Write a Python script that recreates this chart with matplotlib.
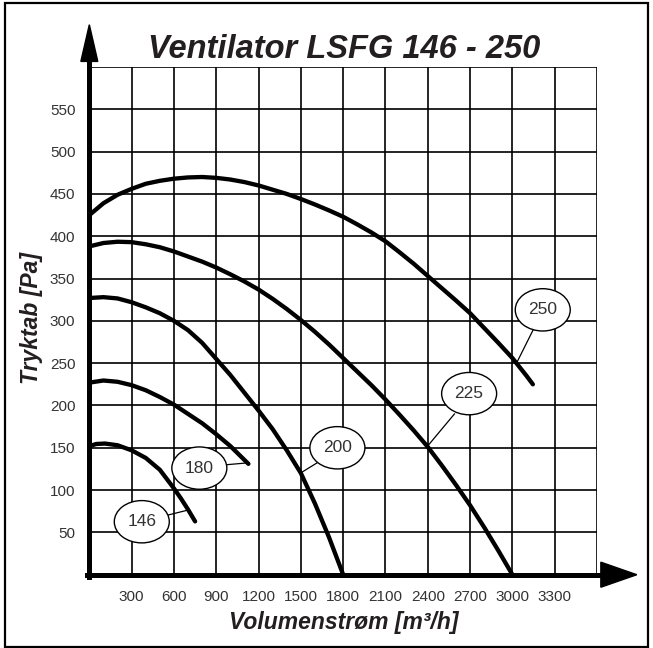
import matplotlib
matplotlib.use("Agg")
import matplotlib.pyplot as plt
from matplotlib.patches import Ellipse, Polygon, Rectangle

plt.rcParams["font.family"] = ["Liberation Sans", "DejaVu Sans"]

# fan curves: volume flow [m3/h] vs pressure loss [Pa]
q_146 = [0, 50, 111, 200, 300, 400, 500, 600, 650, 700, 750]
p_146 = [152, 154.5, 155, 153, 147, 138, 124, 102, 90, 77, 63]

q_180 = [0, 100, 200, 300, 400, 500, 600, 700, 800, 900, 1000, 1128]
p_180 = [227, 229.5, 228, 224, 218, 210, 201, 190, 179, 166, 152, 131]

q_200 = [0, 100, 200, 300, 400, 500, 600, 700, 800, 900, 1000, 1100, 1200,
         1300, 1400, 1500, 1600, 1700, 1800]
p_200 = [327, 328, 326.5, 322, 316, 309, 300, 289, 274, 255, 236, 215, 194,
         172, 147, 120, 84, 44, 0]

q_225 = [0, 100, 200, 300, 400, 500, 600, 700, 800, 900, 1000, 1100, 1200, 1300,
         1400, 1500, 1600, 1700, 1800, 1900, 2000, 2100, 2200, 2300, 2400, 2500,
         2600, 2700, 2800, 2900, 3000]
p_225 = [388, 392, 393.5, 393, 390.5, 387, 382, 376, 370, 363, 355, 346.5, 337, 326,
         314, 301, 287, 272, 256, 240, 224, 207, 189, 170.5, 151, 129,
         106, 82, 56, 28.5, 0]

q_250 = [0, 100, 200, 300, 400, 500, 600, 700, 800, 900, 1000, 1100, 1200, 1300,
         1400, 1500, 1600, 1700, 1800, 1900, 2000, 2100, 2200, 2300, 2400, 2500,
         2600, 2700, 2800, 2900, 3000, 3100, 3145]
p_250 = [425, 439, 449, 456, 462, 465.5, 468, 469.5, 470, 469, 467, 464, 460, 455,
         450, 444, 437.5, 430.5, 423, 414, 404.5, 394, 381, 367.5, 353, 338.5,
         324, 309, 291.5, 274, 256, 235, 225]

curves = [(q_146, p_146), (q_180, p_180), (q_200, p_200), (q_225, p_225), (q_250, p_250)]

# bubble labels: text, bubble centre, leader line start and end
label_text = ["146", "180", "200", "225", "250"]
label_xy = [(372, 62.6), (780, 126), (1759, 150), (2693, 214), (3215, 313)]
leader_from = [(560, 70.6), (974, 130), (1613, 132), (2589, 190), (3145, 288.7)]
leader_to = [(690, 76), (1111, 132), (1506, 121), (2397, 151.7), (3035, 252)]

x_ticks = [300, 600, 900, 1200, 1500, 1800, 2100, 2400, 2700, 3000, 3300, 3600]
x_labels = ["300", "600", "900", "1200", "1500", "1800", "2100", "2400", "2700", "3000", "3300", ""]
y_ticks = [50, 100, 150, 200, 250, 300, 350, 400, 450, 500, 550, 600]
y_labels = ["50", "100", "150", "200", "250", "300", "350", "400", "450", "500", "550", ""]

fig = plt.figure(figsize=(6.53, 6.48), dpi=100)
ax = fig.add_axes([0.1368, 0.1131, 0.7775, 0.7835])
ax.set_xlim(0, 3600)
ax.set_ylim(0, 600)

ax.set_xticks(x_ticks)
ax.set_xticklabels(x_labels)
ax.set_yticks(y_ticks)
ax.set_yticklabels(y_labels)
ax.tick_params(length=0, labelsize=11, labelcolor="#333333")
ax.tick_params(axis="x", pad=11)
ax.tick_params(axis="y", pad=10)
ax.grid(color="black", linewidth=1.2)
ax.set_axisbelow(True)
for s in ax.spines.values():
    s.set_visible(False)

for q, p in curves:
    ax.plot(q, p, color="black", linewidth=3.1, solid_capstyle="round", solid_joinstyle="round", zorder=3)

for txt, (cx, cy), (x0, y0), (x1, y1) in zip(label_text, label_xy, leader_from, leader_to):
    ax.plot([x0, x1], [y0, y1], color="black", linewidth=0.9, zorder=4)
    ax.add_patch(Ellipse((cx, cy), 390, 50, facecolor="white", edgecolor="black", linewidth=1.0, zorder=5))
    ax.text(cx, cy, txt, ha="center", va="center", fontsize=12.5, color="#333333", zorder=6)

# thick axes with arrow heads
ax.plot([-18, 3627], [0, 0], color="black", linewidth=3.6, clip_on=False, zorder=4)
ax.plot([0, 0], [-3, 607], color="black", linewidth=3.6, clip_on=False, zorder=4)
ax.add_patch(Polygon([(3627, -14.8), (3627, 14.8), (3882, 0)], closed=True, color="black", clip_on=False, zorder=4))
ax.add_patch(Polygon([(-60, 606.6), (60, 606.6), (0, 650)], closed=True, color="black", clip_on=False, zorder=4))

fig.text(0.5276, 0.9105, "Ventilator LSFG 146 - 250", ha="center", va="baseline",
         fontsize=23.5, fontweight="bold", fontstyle="italic", color="#231f20")
fig.text(0.527, 0.040, "Volumenstrøm [m³/h]", ha="center", va="center",
         fontsize=16.5, fontweight="bold", fontstyle="italic", color="#231f20")
fig.text(0.048, 0.509, "Tryktab [Pa]", ha="center", va="center", rotation=90,
         fontsize=16.5, fontweight="bold", fontstyle="italic", color="#231f20")

fig.patches.append(Rectangle((0.0069, 0.0023), 0.9862, 0.9923, transform=fig.transFigure,
                             fill=False, edgecolor="black", linewidth=1.6))

fig.savefig("out.png", dpi=100)
